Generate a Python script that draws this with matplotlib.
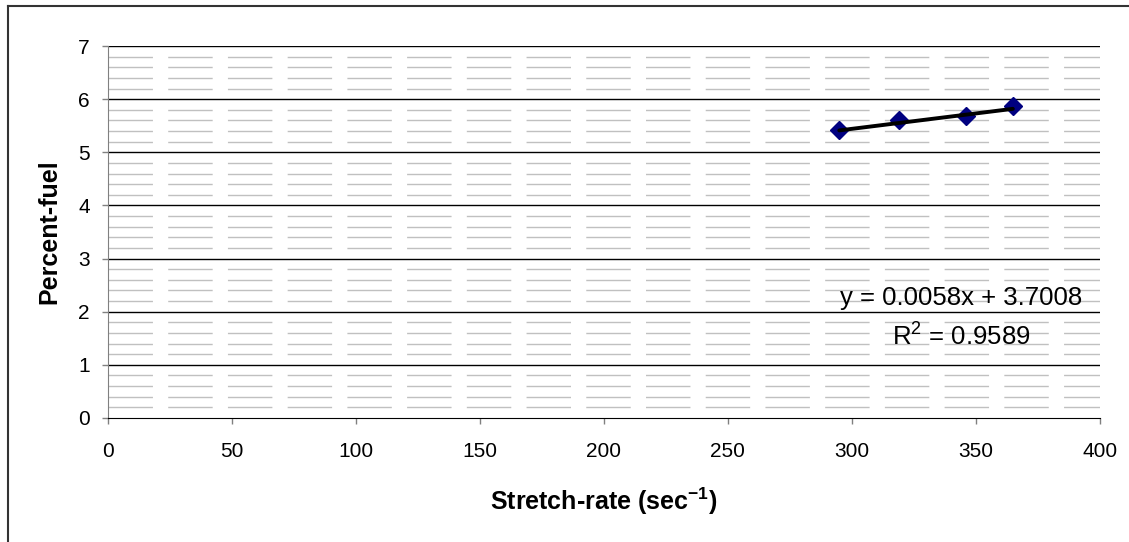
import matplotlib
matplotlib.use("Agg")
import matplotlib.pyplot as plt
import numpy as np
from matplotlib.lines import Line2D

plt.rcParams['font.family'] = ['Liberation Sans', 'DejaVu Sans']
plt.rcParams['mathtext.fontset'] = 'custom'
plt.rcParams['mathtext.rm'] = 'Liberation Sans'
plt.rcParams['mathtext.it'] = 'Liberation Sans:italic'
plt.rcParams['mathtext.bf'] = 'Liberation Sans:bold'

# measured points
stretch_rate = [295, 319, 346, 365]   # 1/s
percent_fuel = [5.42, 5.61, 5.69, 5.87]

# linear trendline (Excel fit)
slope = 0.0058
intercept = 3.7008
r_squared = 0.9589

x_ticks = [0, 50, 100, 150, 200, 250, 300, 350, 400]
y_ticks = [0, 1, 2, 3, 4, 5, 6, 7]


def main():
    fig = plt.figure(figsize=(11.29, 5.42), dpi=100)
    ax = fig.add_axes([0.0954, 0.2288, 0.8786, 0.6863])

    ax.set_xlim(0, 400)
    ax.set_ylim(0, 7)

    # dashed minor grid every 0.2
    for yv in np.arange(0.2, 7.0, 0.2):
        if abs(yv - round(yv)) < 1e-6:
            continue
        ax.axhline(yv, color='#c0c0c0', lw=1.0, dashes=(32, 11), zorder=1)
    for yv in y_ticks[1:]:
        ax.axhline(yv, color='black', lw=1.0, zorder=1)

    ax.plot(stretch_rate, percent_fuel, linestyle='none', marker='D',
            ms=9, color='#000080', zorder=3)

    xs = np.array([stretch_rate[0], stretch_rate[-1]])
    ax.plot(xs, slope * xs + intercept, color='black', lw=2.8,
            solid_capstyle='round', zorder=4)

    ax.text(344, 2.26, f'y = {slope:.4f}x + {intercept:.4f}', ha='center',
            va='center', fontsize=18.5)
    ax.text(344, 1.52, r'R$^2$' + f' = {r_squared:.4f}', ha='center',
            va='center', fontsize=18.5)

    ax.set_xticks(x_ticks)
    ax.set_yticks(y_ticks)
    ax.tick_params(axis='both', direction='out', length=4, width=1,
                   color='#808080', labelsize=15)
    ax.tick_params(axis='x', pad=13)
    ax.tick_params(axis='y', pad=9)

    for s in ['top', 'right']:
        ax.spines[s].set_visible(False)
    ax.spines['left'].set_color('#808080')
    ax.spines['bottom'].set_color('black')

    ax.set_xlabel(r'Stretch-rate (sec$^{\mathbf{-1}}$)', fontsize=18,
                  fontweight='bold', va='center')
    ax.set_ylabel('Percent-fuel', fontsize=18, fontweight='bold',
                  va='center')
    ax.xaxis.set_label_coords(0.5, -0.225)
    ax.yaxis.set_label_coords(-0.059, 0.5)

    # chart area border
    fig.add_artist(Line2D([0.0071, 0.0071], [0.0, 0.9889], color='#333333',
                          lw=1.5, transform=fig.transFigure))
    fig.add_artist(Line2D([0.0071, 1.0], [0.9889, 0.9889], color='#333333',
                          lw=1.5, transform=fig.transFigure))

    fig.savefig('out.png', dpi=100)


if __name__ == "__main__":
    main()
